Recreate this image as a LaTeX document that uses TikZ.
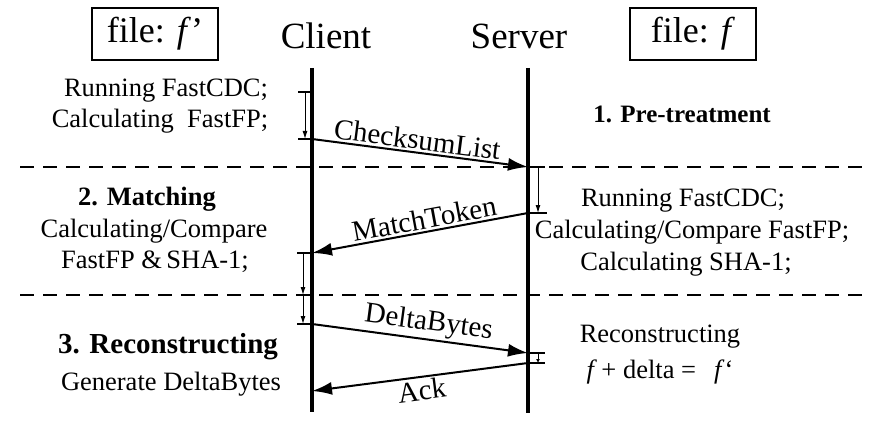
\documentclass[tikz,border=0pt]{standalone}
\usepackage{fontspec}
\setmainfont{Liberation Serif}
\usetikzlibrary{arrows.meta}
\begin{document}
\begin{tikzpicture}[x=1pt,y=-1pt,
  lifeline/.style={line width=4pt},
  msg/.style={line width=2pt,-{Latex[length=20pt,width=13pt]}},
  tickmark/.style={line width=1.5pt},
  proc/.style={line width=1pt,-{Latex[length=8pt,width=5pt]}},
  phase/.style={line width=2.5pt,dash pattern=on 14pt off 9pt},
  txt/.style={anchor=base,inner sep=0pt,font=\fontsize{26.5}{30}\selectfont},
  btxt/.style={txt,font=\fontsize{26.5}{30}\selectfont\bfseries},
  title/.style={anchor=base,inner sep=0pt,font=\fontsize{37}{42}\selectfont},
  filebox/.style={draw,line width=2pt,minimum width=126pt,minimum height=52pt,inner sep=0pt,font=\fontsize{36}{40}\selectfont},
  lbl/.style={sloped,font=\fontsize{29}{32}\selectfont,inner sep=2pt}
]
\useasboundingbox (0,0) rectangle (872,422);

% phase separators
\coordinate (d1a) at (20,167);
\coordinate (d1b) at (866,167);
\coordinate (d2a) at (20,295);
\coordinate (d2b) at (866,295);
\draw[phase] (d1a) -- (d1b);
\draw[phase] (d2a) -- (d2b);

% headers
\node[filebox] (fl) at (155,34) {file: \textit{f}’};
\node[filebox] (fr) at (693,34) {file: \textit{f}};
\node[title] (client) at (326,49) {Client};
\node[title] (server) at (519,49) {Server};

% lifelines
\coordinate (ct) at (312,68);
\coordinate (cb) at (312,412);
\coordinate (st) at (528,68);
\coordinate (sb) at (528,413);
\draw[lifeline] (ct) -- (cb);
\draw[lifeline] (st) -- (sb);

% client marks
\coordinate (c1) at (312,92);  \coordinate (c1l) at (298,92);
\coordinate (c2) at (312,139); \coordinate (c2l) at (298,139);
\coordinate (c3) at (312,253); \coordinate (c3l) at (297,253);
\coordinate (c4) at (312,324); \coordinate (c4l) at (297,324);
\draw[tickmark] (c1l) -- (c1);
\draw[tickmark] (c2l) -- (c2);
\draw[tickmark] (c3l) -- (c3);
\draw[tickmark] (c4l) -- (c4);
\coordinate (pa1) at (305,92);  \coordinate (pa2) at (305,139);
\draw[proc] (pa1) -- (pa2);
\coordinate (pb1) at (303,253); \coordinate (pb2) at (303,295);
\coordinate (pb3) at (303,324);
\draw[proc] (pb1) -- (pb2);
\draw[proc] (pb2) -- (pb3);

% server marks
\coordinate (s1) at (528,167); \coordinate (s1r) at (545,167);
\coordinate (s2) at (528,213); \coordinate (s2r) at (547,213);
\coordinate (s3) at (528,353); \coordinate (s3r) at (545,353);
\coordinate (s4) at (528,363); \coordinate (s4r) at (545,363);
\draw[tickmark] (s1) -- (s1r);
\draw[tickmark] (s2) -- (s2r);
\draw[tickmark] (s3) -- (s3r);
\draw[tickmark] (s4) -- (s4r);
\coordinate (qa1) at (538,167); \coordinate (qa2) at (538,213);
\draw[proc] (qa1) -- (qa2);
\coordinate (qb1) at (538,353); \coordinate (qb2) at (538,363);
\draw[line width=0.8pt,-{Latex[length=4pt,width=4pt]}] (qb1) -- (qb2);

% messages
\draw[msg] (c2) -- node[lbl,above,pos=0.48] (m1) {ChecksumList} (s1);
\draw[msg] (s2) -- node[lbl,above,pos=0.47] (m2) {MatchToken} (c3);
\draw[msg] (c4) -- node[lbl,above,pos=0.53] (m3) {DeltaBytes} (s3);
\draw[msg] (s4) -- node[lbl,below,pos=0.5] (m4) {Ack} (c4 |- 0,391);

% left texts
\node[txt] (t1) at (166,97) {Running FastCDC;};
\node[txt] (t2) at (160,128) {Calculating\ \ FastFP;};
\node[btxt] (t3) at (147,205) {2. Matching};
\node[txt] (t4) at (154,237) {Calculating/Compare};
\node[txt] (t5) at (155,268) {FastFP \&\,SHA-1;};
\node[txt,font=\fontsize{29}{32}\selectfont\bfseries] (t6) at (168,353) {3. Reconstructing};
\node[txt] (t7) at (171,390) {Generate DeltaBytes};

% right texts
\node[txt,font=\fontsize{25}{30}\selectfont\bfseries] (r1) at (682,123) {1. Pre-treatment};
\node[txt] (r2) at (683,207) {Running FastCDC;};
\node[txt] (r3) at (692,238) {Calculating/Compare FastFP;};
\node[txt] (r4) at (686,270) {Calculating SHA-1;};
\node[txt] (r5) at (660,342) {Reconstructing};
\node[txt] (r6) at (660,378) {\textit{f}\,+ delta =\hspace{18pt}\textit{f}‘};
\end{tikzpicture}
\end{document}
